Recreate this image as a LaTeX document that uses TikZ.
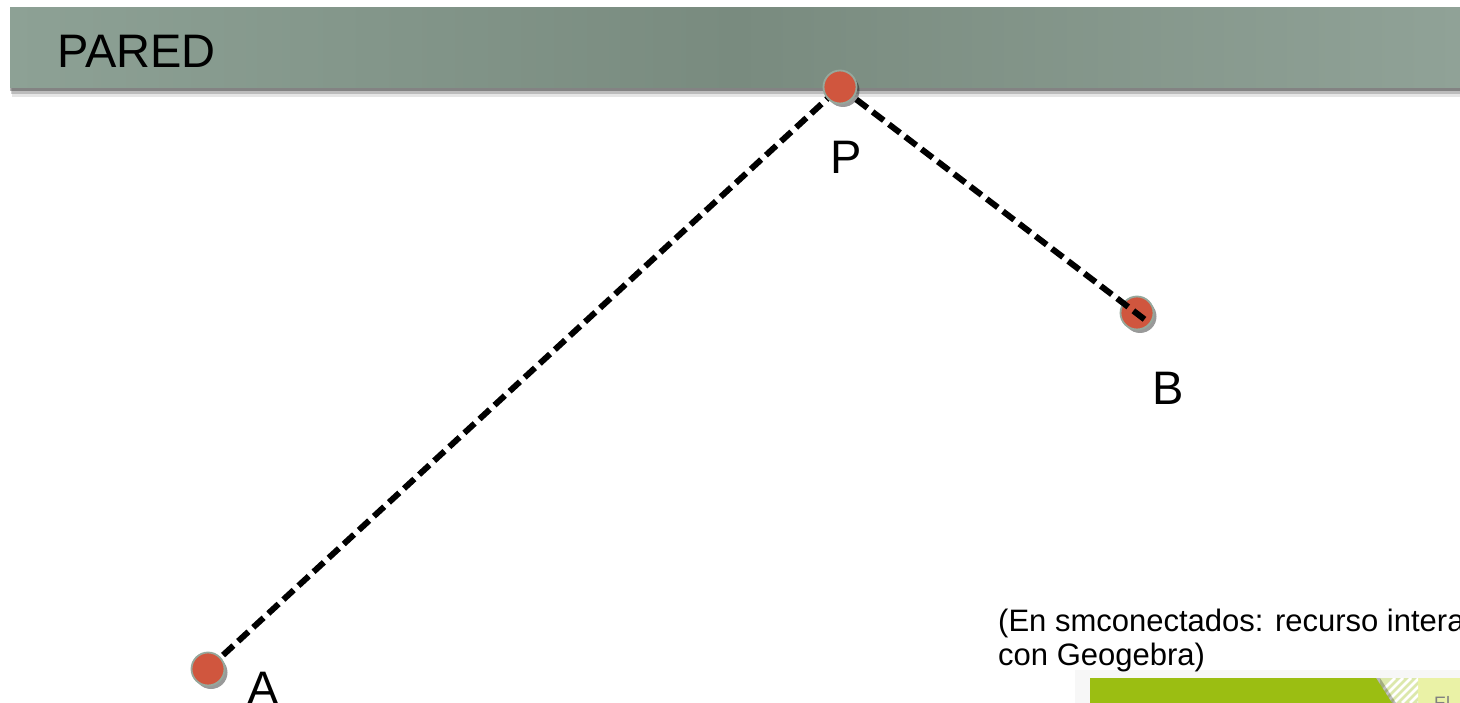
\documentclass[tikz,border=0pt]{standalone}
\usepackage{fontspec}
\setmainfont{Liberation Sans}
\usetikzlibrary{shadows}
\definecolor{barL}{HTML}{8DA195}
\definecolor{barM}{HTML}{798B7F}
\definecolor{barR}{HTML}{90A297}
\definecolor{ptred}{HTML}{D0563E}
\definecolor{ptrim}{HTML}{96A89C}
\definecolor{thgreen}{HTML}{9BBE12}
\definecolor{thpale}{HTML}{EAF2A6}
\tikzset{
  dot/.style={circle, minimum size=33pt, inner sep=0pt, fill=ptred, draw=ptrim, line width=1.8pt,
    drop shadow={shadow xshift=3pt, shadow yshift=-3.5pt, opacity=0.4, fill=black}},
  dashline/.style={line width=6pt, dash pattern=on 14pt off 6.5pt, black},
  biglabel/.style={font=\fontsize{47}{56}\selectfont, inner sep=0pt},
  smalltext/.style={font=\fontsize{31}{35}\selectfont, inner sep=0pt, align=left}
}
\begin{document}
\begin{tikzpicture}[x=1pt,y=-1pt]
\useasboundingbox (0,0) rectangle (1460,703);
\clip (0,0) rectangle (1460,703);
% wall bar with shadow
\fill[black, opacity=0.10] (12,86) rectangle (1460,97);
\fill[black, opacity=0.18] (11,86) rectangle (1460,94);
\fill[black, opacity=0.30] (10,86) rectangle (1460,91);
\shade[shading=axis, left color=barL, right color=barR, middle color=barM, shading angle=90] (10,8) rectangle (1460,88);
\node[biglabel, anchor=base west] (pared) at (57,68) {PARED};
% thumbnail
\fill[gray!6] (1075,670) rectangle (1460,703);
\fill[thpale] (1418,678) rectangle (1460,703);
\fill[thgreen!35] (1380,678) rectangle (1418,703);
\begin{scope}
\clip (1380,678) rectangle (1418,703);
\foreach \i in {0,8,...,64} {
  \draw[white, line width=2.5pt] (1370+\i,703) -- (1395+\i,678);
}
\end{scope}
\fill[black, opacity=0.25] (1090,678) -- (1380,678) -- (1396,703) -- (1090,703) -- cycle;
\fill[thgreen] (1090,678) -- (1376,678) -- (1392,703) -- (1090,703) -- cycle;
\node[anchor=base west, text=gray, font=\fontsize{18}{20}\selectfont, inner sep=0pt] (el) at (1434,709) {El};
% points
\node[dot] (B) at (1137,313) {};
\coordinate (Bend) at (1148,322);
\draw[dashline] (208,669) -- (840,87);
\draw[dashline] (840,87) -- (Bend);
\node[dot] (A) at (208,669) {};
\node[dot] (P) at (840,87) {};
% labels
\node[biglabel, anchor=base] (Pl) at (846,174) {P};
\node[biglabel, anchor=base] (Bl) at (1168,404) {B};
\node[biglabel, anchor=base] (Al) at (263,704) {A};
% caption
\node[smalltext, anchor=base west] (cap1) at (998,631) {(En smconectados: recurso intera};
\node[smalltext, anchor=base west] (cap2) at (998,665) {con Geogebra)};
\end{tikzpicture}
\end{document}
